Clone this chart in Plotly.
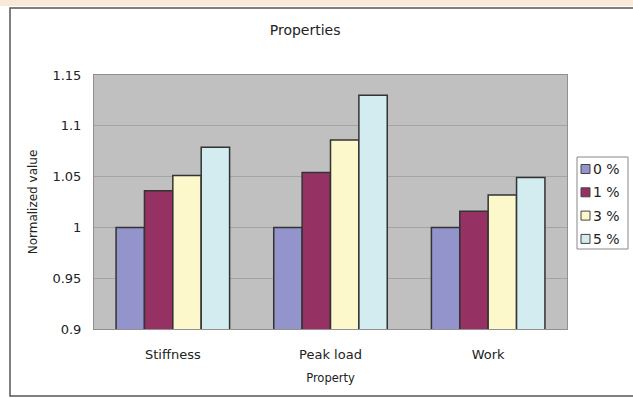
import plotly.graph_objects as go

categories = ["Stiffness", "Peak load", "Work"]
series_names = ["0 %", "1 %", "3 %", "5 %"]
values_0 = [1.0, 1.0, 1.0]
values_1 = [1.036, 1.054, 1.016]
values_3 = [1.051, 1.086, 1.032]
values_5 = [1.079, 1.130, 1.049]
colors = ["#9494cc", "#953163", "#fcf8cc", "#d2ecf0"]
y_ticks = [0.9, 0.95, 1, 1.05, 1.1, 1.15]
y_tick_text = ["0.9", "0.95", "1", "1.05", "1.1", "1.15"]

W, H = 633, 398
ml, mr, mt, mb = 94, 66, 75, 69
pw, ph = W - ml - mr, H - mt - mb

def px_x(x):
    return (x - ml) / pw

def px_y(y):
    return 1 - (y - mt) / ph

fig = go.Figure()
for name, vals, col in zip(series_names, [values_0, values_1, values_3, values_5], colors):
    fig.add_trace(go.Bar(
        x=categories, y=vals, name=name,
        marker=dict(color=col, line=dict(color="#333333", width=1.5)),
    ))

shapes = [
    dict(type="rect", xref="paper", yref="paper",
         x0=px_x(0), x1=px_x(633), y0=px_y(0), y1=px_y(6),
         fillcolor="#fbe9d8", line=dict(width=0), layer="below"),
    dict(type="rect", xref="paper", yref="paper",
         x0=px_x(10), x1=px_x(640), y0=px_y(396), y1=px_y(8),
         line=dict(color="#555", width=1.5), fillcolor="rgba(0,0,0,0)"),
    # legend box
    dict(type="rect", xref="paper", yref="paper",
         x0=px_x(577), x1=px_x(628), y0=px_y(249), y1=px_y(157),
         line=dict(color="#888", width=1), fillcolor="white"),
]
annotations = []
for i, (name, col) in enumerate(zip(series_names, colors)):
    cy = 169 + i * 23.3
    shapes.append(dict(type="rect", xref="paper", yref="paper",
                       x0=px_x(581), x1=px_x(590), y0=px_y(cy + 4.5), y1=px_y(cy - 4.5),
                       line=dict(color="#444", width=1), fillcolor=col))
    annotations.append(dict(text=name, xref="paper", yref="paper",
                            x=px_x(591), y=px_y(cy), xanchor="left", yanchor="middle",
                            showarrow=False, font=dict(size=14, color="#222")))

font_family = "DejaVu Sans, Verdana, sans-serif"
fig.update_layout(
    width=W, height=H,
    margin=dict(l=ml, r=mr, t=mt, b=mb, autoexpand=False),
    paper_bgcolor="white",
    plot_bgcolor="#c0c0c0",
    barmode="group",
    bargap=0.28,
    bargroupgap=0,
    font=dict(family=font_family, size=13, color="#222"),
    title=dict(text="Properties", x=px_x(322), xanchor="center", y=1 - 30 / H, yanchor="middle",
               font=dict(size=14, color="#222")),
    showlegend=False,
    xaxis=dict(
        title=dict(text="Property", font=dict(size=11.5), standoff=13),
        showline=True, linecolor="#909090", linewidth=1, mirror=True,
        ticks="outside", ticklen=13, tickcolor="rgba(0,0,0,0)", tickfont=dict(size=13),
        showgrid=False,
    ),
    yaxis=dict(
        title=dict(text="Normalized value", font=dict(size=12), standoff=12),
        range=[0.9, 1.15], tickvals=y_ticks, ticktext=y_tick_text,
        showline=True, linecolor="#909090", linewidth=1, mirror=True,
        gridcolor="#a4a4a4", gridwidth=1, zeroline=False,
        ticks="outside", ticklen=9, tickcolor="rgba(0,0,0,0)",
        tickfont=dict(size=13),
    ),
    shapes=shapes,
    annotations=annotations,
)

fig.write_html("out.html")
